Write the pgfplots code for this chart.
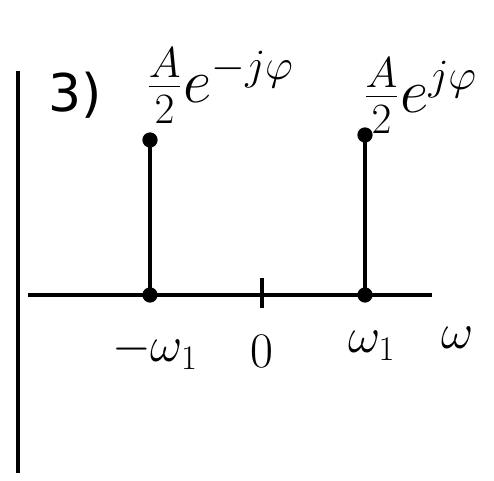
\documentclass[border=0pt]{standalone}
\usepackage{pgfplots}
\pgfplotsset{compat=1.18}
\usepackage{fontspec}
\setmainfont{DejaVu Sans}
\begin{document}
\begin{tikzpicture}
\begin{axis}[
  width=247pt, height=240.5pt, scale only axis,
  xmin=0, xmax=494, ymin=0, ymax=481,
  hide axis, clip=false,
]
% invisible frame so the page keeps the full size
\addplot[draw=none] coordinates {(0,0) (494,481)};
% frequency axis
\addplot[black, line width=1.6pt] coordinates {(28,186) (432,186)};
% left vertical bar
\addplot[black, line width=1.6pt] coordinates {(18,410) (18,8)};
% tick at zero
\addplot[black, line width=1.6pt] coordinates {(262,203) (262,173)};
% stems
\addplot[black, line width=1.6pt, mark=*, mark size=3pt] coordinates {(150,186) (150,341)};
\addplot[black, line width=1.6pt, mark=*, mark size=3pt] coordinates {(365,186) (365,346)};
% labels
\node[font=\fontsize{26}{28}\selectfont] at (axis cs:75,386) {3)};
\node[font=\fontsize{26}{28}\selectfont, scale=1.25] at (axis cs:220,395) {$\frac{A}{2}e^{-j\varphi}$};
\node[font=\fontsize{26}{28}\selectfont, scale=1.25] at (axis cs:420,385) {$\frac{A}{2}e^{j\varphi}$};
\node[font=\fontsize{26}{28}\selectfont] at (axis cs:155,130) {$-\omega_1$};
\node[font=\fontsize{26}{28}\selectfont] at (axis cs:262,130) {$0$};
\node[font=\fontsize{26}{28}\selectfont] at (axis cs:372,135) {$\omega_1$};
\node[font=\fontsize{26}{28}\selectfont] at (axis cs:458,143) {$\omega$};
\end{axis}
\end{tikzpicture}
\end{document}
